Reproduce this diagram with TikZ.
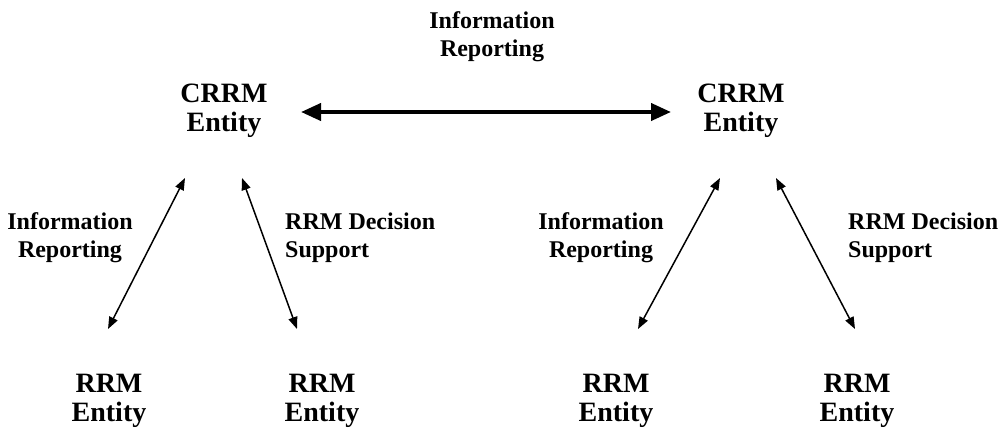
\documentclass[tikz,border=0pt]{standalone}
\usepackage{fontspec}
\setmainfont{Liberation Serif}
\usetikzlibrary{arrows.meta}
\begin{document}
\begin{tikzpicture}[x=1pt,y=-1pt,
  entity/.style={font=\fontsize{28}{29}\selectfont\bfseries, align=center, inner sep=0pt},
  lbl/.style={font=\fontsize{24}{28}\selectfont\bfseries, inner sep=0pt},
  link/.style={{Triangle[length=12pt,width=9pt]}-{Triangle[length=12pt,width=9pt]}, line width=1.5pt},
  biglink/.style={{Triangle[length=20pt,width=17pt]}-{Triangle[length=20pt,width=17pt]}, line width=4pt}]
\useasboundingbox (0,0) rectangle (1006,440);

% entities
\node[entity] (crrmL) at (224,111) {CRRM\\Entity};
\node[entity] (crrmR) at (741,111) {CRRM\\Entity};
\node[entity] (rrmA) at (109,401) {RRM\\Entity};
\node[entity] (rrmB) at (322,401) {RRM\\Entity};
\node[entity] (rrmC) at (616,401) {RRM\\Entity};
\node[entity] (rrmD) at (857,401) {RRM\\Entity};

% labels
\node[lbl, align=center] (ltop) at (492,37) {Information\\Reporting};
\node[lbl, align=center] (lA) at (70,238) {Information\\Reporting};
\node[lbl, align=left, anchor=west] (lB) at (285,238) {RRM Decision\\Support};
\node[lbl, align=center] (lC) at (601,238) {Information\\Reporting};
\node[lbl, align=left, anchor=west] (lD) at (848,238) {RRM Decision\\Support};

% connector ends
\coordinate (hL) at (301,112);
\coordinate (hR) at (671,112);
\coordinate (a1) at (185,178); \coordinate (b1) at (108,329);
\coordinate (a2) at (242,178); \coordinate (b2) at (297,329);
\coordinate (a3) at (720,178); \coordinate (b3) at (638,329);
\coordinate (a4) at (776,178); \coordinate (b4) at (855,329);

% connectors
\draw[biglink] (hL) -- (hR);
\draw[link] (a1) -- (b1);
\draw[link] (a2) -- (b2);
\draw[link] (a3) -- (b3);
\draw[link] (a4) -- (b4);
\end{tikzpicture}
\end{document}
